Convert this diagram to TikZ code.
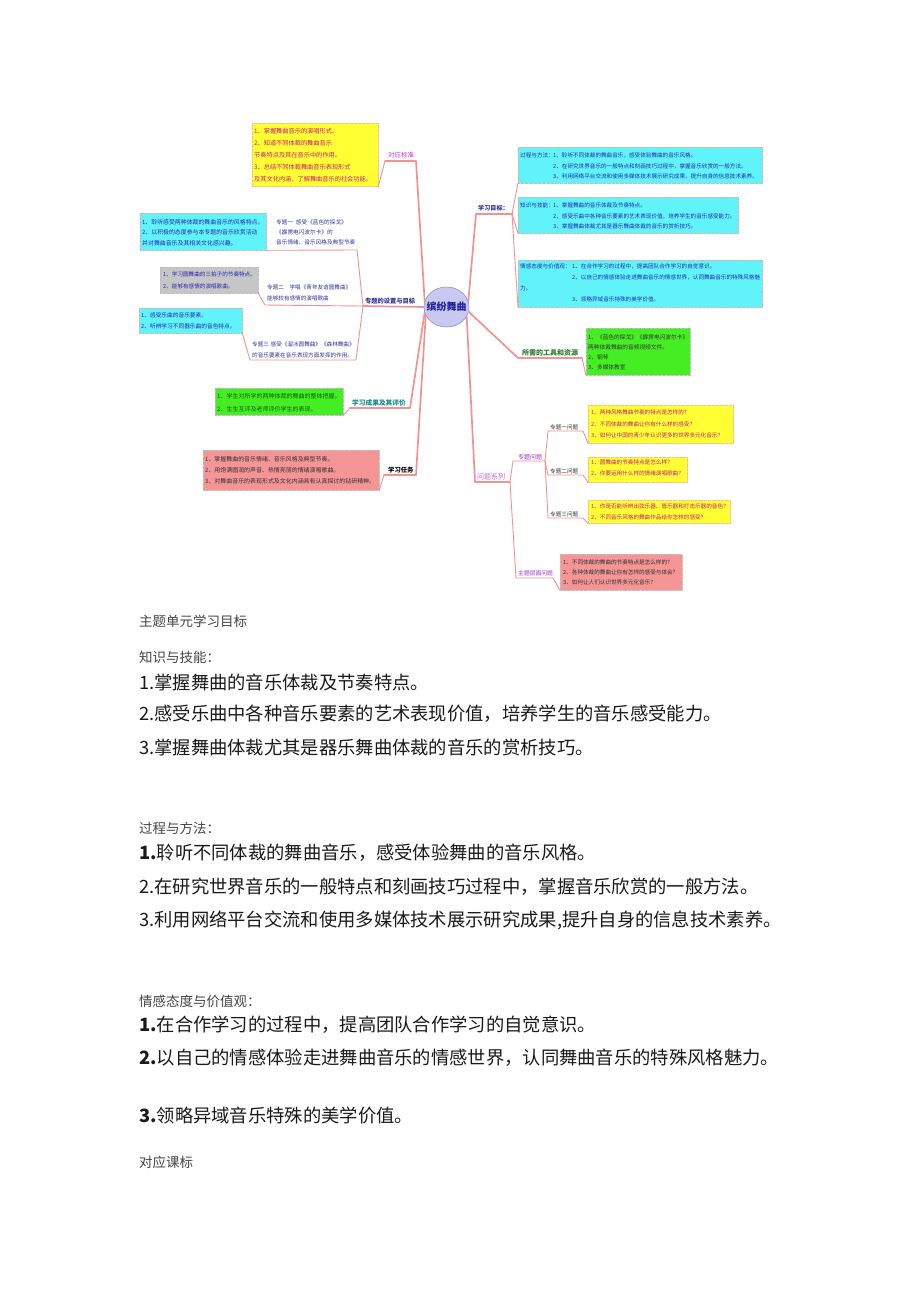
\documentclass[tikz,border=0pt]{standalone}
\usepackage{fontspec}
\setmainfont{Noto Sans CJK SC}
\usetikzlibrary{shapes.geometric,shadows}
\definecolor{linkc}{HTML}{F29393}
\definecolor{yelb}{HTML}{FFFF33}
\definecolor{cyanb}{HTML}{60F4FA}
\definecolor{grayb}{HTML}{C6C6C6}
\definecolor{greenb}{HTML}{44EE22}
\definecolor{redb}{HTML}{F59595}
\definecolor{ellf}{HTML}{C8C8F0}
\definecolor{elld}{HTML}{9090C0}
\definecolor{elltxt}{HTML}{2020A0}
\definecolor{magtxt}{HTML}{C8207A}
\definecolor{bluetxt}{HTML}{2828B0}
\definecolor{navytxt}{HTML}{333399}
\definecolor{greentxt}{HTML}{0B5E0B}
\definecolor{darktxt}{HTML}{333333}
\definecolor{lbmag}{HTML}{D030C8}
\definecolor{lbteal}{HTML}{1A8A8A}
\definecolor{lbgreen}{HTML}{2E7D32}
\definecolor{lbviolet}{HTML}{D060D0}
\definecolor{lbpurple}{HTML}{A030C0}
\definecolor{itemc}{HTML}{1A1A1A}
\definecolor{headc}{HTML}{444444}
\newcommand\myfs[2]{\fontsize{#1}{#2}\selectfont}
\begin{document}
\begin{tikzpicture}[x=1pt,y=-1pt,
  mbox/.style={rectangle, inner sep=0pt, line width=0.3pt, densely dotted, anchor=north west,
    drop shadow={shadow xshift=1.1pt, shadow yshift=-1.1pt, fill=black!30, opacity=0.45}},
  mtxt/.style={inner sep=0pt, align=left, anchor=north west},
  lbl/.style={inner sep=0pt, anchor=west},
  conn/.style={draw=linkc, line width=1.7pt, line join=round, line cap=round},
  sconn/.style={draw=linkc, line width=0.9pt, line join=round, line cap=round},
  item/.style={inner sep=0pt, anchor=west, text=itemc, font=\myfs{18.3}{22}},
  head/.style={inner sep=0pt, anchor=west, text=headc, font=\myfs{13.5}{16}},
]
\useasboundingbox (0,0) rectangle (920,1302);
\fill[white] (0,0) rectangle (920,1302);

% ---------- centre ----------
\node[ellipse, minimum width=45pt, minimum height=40pt, inner sep=0pt, fill=ellf, draw=elld, line width=0.6pt] (ctr) at (446.5,307) {};
\node[inner sep=0pt, text=elltxt, font=\myfs{10}{12}\bfseries] (ctrt) at (446.5,307) {缤纷舞曲};

% ---------- left boxes ----------
\node[mbox, fill=yelb, draw=orange!50, minimum width=126pt, minimum height=63pt] (yL) at (252,123) {};
\node[mtxt, text=magtxt, font=\myfs{6.2}{12}] (yLt) at (254,128) {1、掌握舞曲音乐的演唱形式。\\2、知道不同体裁的舞曲音乐\\节奏特点及其在音乐中的作用。\\3、总结不同体裁舞曲音乐表现形式\\及其文化内涵，了解舞曲音乐的社会功能。};

\node[mbox, fill=cyanb, draw=black!25, minimum width=126pt, minimum height=37pt] (cL1) at (140,213) {};
\node[mtxt, text=bluetxt, font=\myfs{5.9}{10.5}] (cL1t) at (142,219) {1、聆听感受两种体裁的舞曲音乐的风格特点。\\2、以积极的态度参与本专题的音乐欣赏活动\\并对舞曲音乐及其相关文化感兴趣。};
\node[mtxt, text=navytxt, font=\myfs{5.65}{10}] (t1) at (276,220) {专题一\hspace{0.5em}感受《蓝色的探戈》\\《霹雳电闪波尔卡》的\\音乐情绪、音乐风格及典型节奏};

\node[mbox, fill=grayb, draw=black!25, minimum width=98pt, minimum height=26pt] (gL) at (160,267) {};
\node[mtxt, text=bluetxt, font=\myfs{5.6}{12}] (gLt) at (163,272) {1、学习圆舞曲的三拍子的节奏特点。\\2、能够有感情的演唱歌曲。};
\node[mtxt, text=navytxt, font=\myfs{5.6}{10.5}] (t2) at (267,285) {专题二\hspace{1em}学唱《青年友谊圆舞曲》\\能够较有感情的演唱歌曲};

\node[mbox, fill=cyanb, draw=black!25, minimum width=103pt, minimum height=25pt] (cL3) at (139,308) {};
\node[mtxt, text=bluetxt, font=\myfs{5.7}{11}] (cL3t) at (141,312) {1、感受乐曲的音乐要素。\\2、听辨学习不同器乐曲的音色特点。};
\node[mtxt, text=navytxt, font=\myfs{5.6}{11}] (t3) at (252,342) {专题三\hspace{0.3em}感受《溜冰圆舞曲》《森林舞曲》\\的音乐要素在音乐表现方面发挥的作用。};

\node[mbox, fill=greenb, draw=black!25, minimum width=128pt, minimum height=27pt] (gnL) at (215,388) {};
\node[mtxt, text=greentxt, font=\myfs{6}{13}] (gnLt) at (217,393) {1、学生对所学的两种体裁的舞曲的整体把握。\\2、生生互评及老师评价学生的表现。};

\node[mbox, fill=redb, draw=black!25, minimum width=176pt, minimum height=40pt] (rL) at (203,450) {};
\node[mtxt, text=darktxt, font=\myfs{5.95}{11}] (rLt) at (205,456) {1、掌握舞曲的音乐情绪、音乐风格及典型节奏。\\2、用饱满圆润的声音、热情亮丽的情绪演唱歌曲。\\3、对舞曲音乐的表现形式及文化内涵具有认真探讨的钻研精神。};

% ---------- left labels ----------
\node[lbl, text=lbmag, font=\myfs{6.5}{8}] (lb1) at (388,155) {对应标准};
\node[lbl, text=navytxt, font=\myfs{6.25}{8}\bfseries] (lb2) at (365,301) {专题的设置与目标};
\node[lbl, text=lbteal, font=\myfs{6.7}{8}\bfseries] (lb3) at (352,403) {学习成果及其评价};
\node[lbl, text=black, font=\myfs{6.3}{8}\bfseries] (lb4) at (388,470) {学习任务};

% ---------- right boxes ----------
\node[mbox, fill=cyanb, draw=black!25, minimum width=244pt, minimum height=36pt] (cR1) at (518,147) {};
\node[mtxt, text=bluetxt, font=\myfs{5.6}{10.5}] (cR1t) at (520,153) {\makebox[33pt][l]{过程与方法：}1、聆听不同体裁的舞曲音乐，感受体验舞曲的音乐风格。\\\hspace*{33pt}2、在研究世界音乐的一般特点和刻画技巧过程中，掌握音乐欣赏的一般方法。\\\hspace*{33pt}3、利用网络平台交流和使用多媒体技术展示研究成果，提升自身的信息技术素养。};

\node[mbox, fill=cyanb, draw=black!25, minimum width=220pt, minimum height=36pt] (cR2) at (518,197) {};
\node[mtxt, text=bluetxt, font=\myfs{5.6}{10.5}] (cR2t) at (520,203) {\makebox[33pt][l]{知识与技能：}1、掌握舞曲的音乐体裁及节奏特点。\\\hspace*{33pt}2、感受乐曲中各种音乐要素的艺术表现价值，培养学生的音乐感受能力。\\\hspace*{33pt}3、掌握舞曲体裁尤其是器乐舞曲体裁的音乐的赏析技巧。};

\node[mbox, fill=cyanb, draw=black!25, minimum width=244pt, minimum height=47pt] (cR3) at (518,260) {};
\node[mtxt, text=bluetxt, font=\myfs{5.6}{11}] (cR3t) at (520,264) {\makebox[52pt][l]{情感态度与价值观：}1、在合作学习的过程中，提高团队合作学习的自觉意识。\\\hspace*{52pt}2、以自己的情感体验走进舞曲音乐的情感世界，认同舞曲音乐的特殊风格魅\\力。\\\hspace*{52pt}3、领略异域音乐特殊的美学价值。};

\node[mbox, fill=greenb, draw=black!25, minimum width=104pt, minimum height=47pt] (gnR) at (586,328) {};
\node[mtxt, text=darktxt, font=\myfs{5.7}{10}] (gnRt) at (588,334) {1、《蓝色的探戈》《霹雳电闪波尔卡》\\两种体裁舞曲的音频视频文件。\\2、钢琴\\3、多媒体教室};

\node[mbox, fill=yelb, draw=orange!50, minimum width=145pt, minimum height=38pt] (yR1) at (588,405) {};
\node[mtxt, text=magtxt, font=\myfs{5.6}{11.5}] (yR1t) at (591,410) {1、两种风格舞曲节奏的特点是怎样的？\\2、不同体裁的舞曲让你有什么样的感受？\\3、如何让中国的青少年认识更多的世界多元化音乐？};

\node[mbox, fill=yelb, draw=orange!50, minimum width=99pt, minimum height=25pt] (yR2) at (588,457) {};
\node[mtxt, text=magtxt, font=\myfs{5.6}{11}] (yR2t) at (591,460) {1、圆舞曲的节奏特点是怎么样？\\2、你要运用什么样的情绪演唱歌曲？};

\node[mbox, fill=yelb, draw=orange!50, minimum width=142pt, minimum height=23pt] (yR3) at (588,500) {};
\node[mtxt, text=magtxt, font=\myfs{5.6}{10.5}] (yR3t) at (591,504) {1、你是否能听辨出弦乐器、管乐器和打击乐器的音色？\\2、不同音乐风格的舞曲作品给你怎样的感受？};

\node[mbox, fill=redb, draw=black!25, minimum width=122pt, minimum height=36pt] (rR) at (560,554) {};
\node[mtxt, text=darktxt, font=\myfs{5.6}{10}] (rRt) at (563,560) {1、不同体裁的舞曲的节奏特点是怎么样的？\\2、各种体裁的舞曲让你有怎样的感受与体会？\\3、如何让人们认识世界多元化音乐？};

% ---------- right labels ----------
\node[lbl, text=navytxt, font=\myfs{6.1}{8}\bfseries] (lbR1) at (478,208) {学习目标：};
\node[lbl, text=lbgreen, font=\myfs{7}{8}\bfseries] (lbR2) at (522,353) {所需的工具和资源};
\node[lbl, text=lbviolet, font=\myfs{7}{8}] (lbR3) at (477,477) {问题系列};
\node[lbl, text=lbpurple, font=\myfs{6}{8}] (lbR4) at (518,457) {专题问题};
\node[lbl, text=darktxt, font=\myfs{5.6}{8}] (q1) at (550,427) {专题一问题};
\node[lbl, text=darktxt, font=\myfs{5.6}{8}] (q2) at (550,471) {专题二问题};
\node[lbl, text=darktxt, font=\myfs{5.6}{8}] (q3) at (550,514) {专题三问题};
\node[lbl, text=lbpurple, font=\myfs{5.8}{8}] (lbR5) at (518,573) {主题层面问题};

% ---------- connector points ----------
\coordinate (u1a) at (385,161); \coordinate (u1b) at (416,161);
\coordinate (j2) at (363,306);
\coordinate (ut1) at (357,250);
\coordinate (ut2) at (265,305);
\coordinate (ut3a) at (250,360); \coordinate (ut3b) at (356,360);
\coordinate (u3a) at (350,408); \coordinate (u3b) at (410,408);
\coordinate (u4a) at (384,475); \coordinate (u4b) at (416,475);
\coordinate (uR1a) at (476,214); \coordinate (uR1b) at (512,214);
\coordinate (uR2a) at (518,358); \coordinate (uR2b) at (582,358);
\coordinate (uR3a) at (475,482); \coordinate (uR3b) at (510,482);
\coordinate (uR4a) at (513,461); \coordinate (uR4b) at (545,461);
\coordinate (uq1a) at (548,431); \coordinate (uq1b) at (583,431);
\coordinate (uq2a) at (548,475); \coordinate (uq2b) at (583,475);
\coordinate (uq3a) at (548,518); \coordinate (uq3b) at (583,518);
\coordinate (uR5a) at (516,578); \coordinate (uR5b) at (553,578);

% ---------- connectors left ----------
\draw[sconn] (yL.south east) -- (u1a);
\draw[conn] (u1a) -- (u1b) -- (ctr.165);
\draw[sconn] (cL1.south east) -- (ut1) -- (j2);
\draw[sconn] (gL.south east) -- (ut2) -- (j2);
\draw[sconn] (cL3.south east) -- (ut3a) -- (ut3b) -- (j2);
\draw[conn] (j2) -- (ctr.180);
\draw[sconn] (gnL.south east) -- (u3a);
\draw[conn] (u3a) -- (u3b) -- (ctr.195);
\draw[sconn] (rL.south east) -- (u4a);
\draw[conn] (u4a) -- (u4b) -- (ctr.202);

% ---------- connectors right ----------
\draw[conn] (ctr.15) -- (uR1a) -- (uR1b);
\draw[sconn] (uR1b) -- (cR1.south west);
\draw[sconn] (uR1b) -- (cR2.south west);
\draw[sconn] (uR1b) -- (cR3.south west);
\draw[conn] (ctr.-12) -- (uR2a) -- (uR2b);
\draw[sconn] (uR2b) -- (gnR.south west);
\draw[conn] (ctr.-25) -- (uR3a) -- (uR3b);
\draw[sconn] (uR3b) -- (uR4a) -- (uR4b);
\draw[sconn] (uR3b) -- (uR5a) -- (uR5b) -- (rR.south west);
\draw[sconn] (uR4b) -- (uq1a) -- (uq1b) -- (yR1.south west);
\draw[sconn] (uR4b) -- (uq2a) -- (uq2b) -- (yR2.south west);
\draw[sconn] (uR4b) -- (uq3a) -- (uq3b) -- (yR3.south west);

% ---------- text below ----------
\node[head] (h0) at (139,621) {主题单元学习目标};
\node[head] (h1) at (139,657) {知识与技能：};
\node[item] (k1) at (139,682) {1.掌握舞曲的音乐体裁及节奏特点。};
\node[item] (k2) at (139,714) {2.感受乐曲中各种音乐要素的艺术表现价值，培养学生的音乐感受能力。};
\node[item] (k3) at (139,747) {3.掌握舞曲体裁尤其是器乐舞曲体裁的音乐的赏析技巧。};
\node[head] (h2) at (139,828) {过程与方法：};
\node[item] (p1) at (139,853) {\textbf{1.}聆听不同体裁的舞曲音乐，感受体验舞曲的音乐风格。};
\node[item] (p2) at (139,887) {2.在研究世界音乐的一般特点和刻画技巧过程中，掌握音乐欣赏的一般方法。};
\node[item] (p3) at (139,920) {3.利用网络平台交流和使用多媒体技术展示研究成果,提升自身的信息技术素养。};
\node[head] (h3) at (139,1001) {情感态度与价值观：};
\node[item] (e1) at (139,1025) {\textbf{1.}在合作学习的过程中，提高团队合作学习的自觉意识。};
\node[item] (e2) at (139,1058) {\textbf{2.}以自己的情感体验走进舞曲音乐的情感世界，认同舞曲音乐的特殊风格魅力。};
\node[item] (e3) at (139,1116) {\textbf{3.}领略异域音乐特殊的美学价值。};
\node[head] (h4) at (139,1162) {对应课标};
\end{tikzpicture}
\end{document}
